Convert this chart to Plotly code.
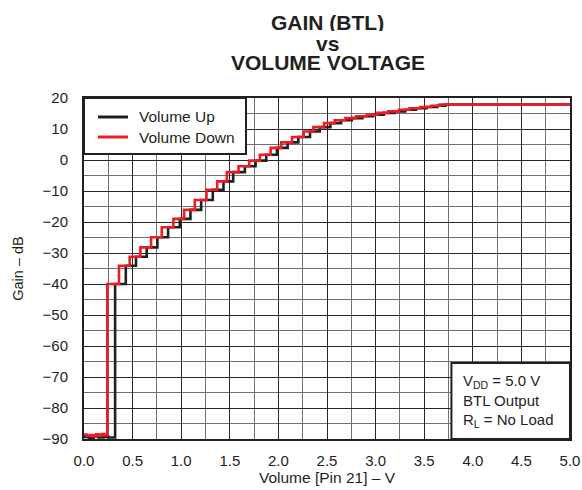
import plotly.graph_objects as go

# Volume Down (red) staircase: step start voltage (V) and gain level (dB)
down_v = [0.00, 0.03, 0.06, 0.09, 0.12, 0.15, 0.18, 0.21,
          0.24, 0.36, 0.47, 0.58, 0.69, 0.80, 0.92, 1.03, 1.14, 1.26,
          1.37, 1.47, 1.59, 1.70, 1.81, 1.92, 2.03, 2.14, 2.26, 2.36,
          2.47, 2.58, 2.69, 2.80, 2.91, 3.02, 3.13, 3.24, 3.35, 3.46,
          3.57, 3.66, 5.00]
down_db = [-88.6, -89.0, -88.7, -89.1, -88.5, -88.9, -88.4, -88.8,
           -40.0, -34.1, -31.2, -28.2, -24.9, -21.7, -19.0, -16.1, -12.9, -9.6,
           -6.9, -3.9, -2.0, -0.2, 1.7, 3.9, 5.7, 7.4, 9.2, 10.6,
           11.9, 12.8, 13.5, 14.1, 14.6, 15.2, 15.7, 16.2, 16.7, 17.1,
           17.5, 17.9, 17.9]

# Volume Up (black) staircase
up_v = [0.00, 0.05, 0.10, 0.15, 0.20, 0.25,
        0.32, 0.43, 0.535, 0.645, 0.755, 0.865, 0.985, 1.095, 1.205, 1.325,
        1.435, 1.535, 1.655, 1.765, 1.875, 1.985, 2.095, 2.205, 2.325, 2.425,
        2.535, 2.645, 2.755, 2.865, 2.975, 3.085, 3.195, 3.305, 3.415, 3.525,
        3.635, 3.72, 5.00]
up_db = [-89.3, -89.6, -89.2, -89.5, -89.3, -89.5,
         -40.0, -34.1, -31.2, -28.2, -24.9, -21.7, -19.0, -16.1, -12.9, -9.6,
         -6.9, -3.9, -2.0, -0.2, 1.7, 3.9, 5.7, 7.4, 9.2, 10.6,
         11.9, 12.8, 13.5, 14.1, 14.6, 15.2, 15.7, 16.2, 16.7, 17.1,
         17.5, 17.9, 17.9]

series_names = ["Volume Up", "Volume Down"]
x_ticks = [0.0, 0.5, 1.0, 1.5, 2.0, 2.5, 3.0, 3.5, 4.0, 4.5, 5.0]
y_ticks = [20, 10, 0, -10, -20, -30, -40, -50, -60, -70, -80, -90]

FONT = "Liberation Sans, Arial, Helvetica, sans-serif"
INK = "#231F20"
RED = "#ED1C24"
colors = [INK, RED]

W, H = 582, 490
ML, MR, MT, MB = 84, 12, 98, 51
PW, PH = W - ML - MR, H - MT - MB


def px(xp):
    return (xp - ML) / PW


def py(yp):
    return (H - MB - yp) / PH


fig = go.Figure()
for name, xs, ys, c in [(series_names[0], up_v, up_db, colors[0]),
                        (series_names[1], down_v, down_db, colors[1])]:
    fig.add_trace(go.Scatter(x=xs, y=ys, mode="lines", name=name, showlegend=False,
                             line=dict(color=c, width=2.6, shape="hv")))

fig.update_layout(
    width=W, height=H,
    margin=dict(l=ML, r=MR, t=MT, b=MB, autoexpand=False),
    paper_bgcolor="white", plot_bgcolor="white",
    font=dict(family=FONT, color=INK, size=15),
    showlegend=False,
)

fig.update_xaxes(range=[0, 5], tickvals=x_ticks, tickformat=".1f", automargin=False,
                 showgrid=True, gridcolor="#262626", gridwidth=1.1,
                 minor=dict(dtick=0.25, showgrid=True, gridcolor="#707070", gridwidth=1.1),
                 showline=True, linecolor=INK, linewidth=2, mirror=True,
                 ticks="", ticklabelstandoff=7, zeroline=False,
                 tickfont=dict(size=15),
                 title=dict(text="Volume [Pin 21] \u2013 V", font=dict(size=15.5), standoff=4))
fig.update_yaxes(range=[-90, 20], tickvals=y_ticks, automargin=False,
                 showgrid=True, gridcolor="#262626", gridwidth=1.1,
                 minor=dict(dtick=5, showgrid=True, gridcolor="#707070", gridwidth=1.1),
                 showline=True, linecolor=INK, linewidth=2, mirror=True,
                 ticks="", ticklabelstandoff=11, zeroline=False,
                 tickfont=dict(size=15),
                 title=dict(text="Gain \u2013 dB", font=dict(size=14.5), standoff=15))

# Title lines
for txt, ypx in [("GAIN (BTL)", 22), ("vs", 43), ("VOLUME VOLTAGE", 62)]:
    fig.add_annotation(text="<b>%s</b>" % txt, xref="paper", yref="paper",
                       x=px(327.5), y=py(ypx),
                       xanchor="center", yanchor="middle", height=18,
                       showarrow=False, font=dict(size=21, color=INK, family=FONT))

# Legend box (top-left, inside plot)
fig.add_shape(type="rect", xref="paper", yref="paper",
              x0=0, x1=px(246), y0=py(154), y1=1,
              fillcolor="white", line=dict(color=INK, width=2), layer="above")
for i, (name, c) in enumerate(zip(series_names, colors)):
    yy = py(117 + 20 * i)
    fig.add_shape(type="line", xref="paper", yref="paper",
                  x0=px(98), x1=px(128), y0=yy, y1=yy,
                  line=dict(color=c, width=3), layer="above")
    fig.add_annotation(text=name, xref="paper", yref="paper", x=px(137), y=yy,
                       xanchor="left", yanchor="middle", showarrow=False,
                       font=dict(size=15.5, color=INK, family=FONT))

# Conditions box
fig.add_shape(type="rect", xref="x", yref="y", x0=3.78, x1=5.0, y0=-90, y1=-65.5,
              fillcolor="white", line=dict(color=INK, width=2), layer="above")
fig.add_annotation(text="V<sub>DD</sub> = 5.0 V<br>BTL Output<br>R<sub>L</sub> = No Load",
                   xref="x", yref="y", x=3.88, y=-77.8, xanchor="left", yanchor="middle",
                   align="left", showarrow=False, font=dict(size=15, color=INK, family=FONT))

fig.write_html("out.html", config={"displayModeBar": False},
               post_script="document.body.style.margin='0';")
